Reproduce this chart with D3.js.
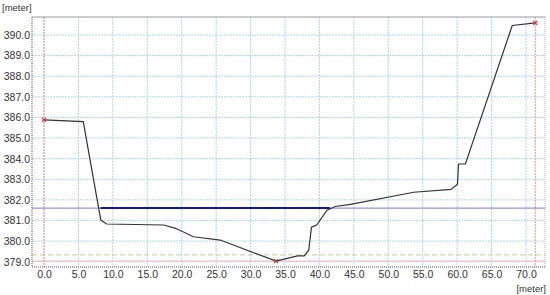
<!DOCTYPE html>
<html>
<head>
<meta charset="utf-8">
<script src="https://cdn.jsdelivr.net/npm/d3@7"></script>
<style>
  body { margin: 0; background: #fff; }
  text { font-family: "Liberation Sans", Arial, sans-serif; }
</style>
</head>
<body>
<div id="chart"></div>
<script>
// Data
const stations = [0, 5.7, 8.25, 9.1, 17.4, 19.1, 21.7, 25.6, 33.7, 36.8, 37.8, 38.45, 38.84, 39.6, 41.1, 42.3, 44.5, 53.7, 59.1, 60.05, 60.2, 61.2, 68.0, 71.35];
const elevations = [385.88, 385.8, 381.02, 380.83, 380.78, 380.62, 380.21, 380.05, 379.03, 379.28, 379.28, 379.57, 380.67, 380.78, 381.5, 381.68, 381.78, 382.37, 382.51, 382.76, 383.74, 383.74, 390.46, 390.59];
const waterLevel = 381.6;
const waterStations = [8.2, 41.5];
const greenLevel = 379.33;
const minLevel = 379.03;
const xTicks = d3.range(0, 71, 5);
const yTicks = d3.range(379, 391, 1);
const markers = [
  { s: 0, e: 385.88, c: "#e03030" },
  { s: 71.35, e: 390.59, c: "#e03030" },
  { s: 33.7, e: 379.03, c: "#a04020" },
];
const ends = [0, 71.35];

// Dimensions
const width = 550;
const height = 295;
const plot = { left: 32, right: 545, top: 17, bottom: 267 };

const svg = d3
  .select("#chart")
  .append("svg")
  .attr("width", width)
  .attr("height", height);

// Scales
const xScale = d3.scaleLinear().domain([0, 70]).range([44, 526]);
const yScale = d3.scaleLinear().domain([379, 390]).range([261.7, 35]);

svg.append("clipPath").attr("id", "clip")
  .append("rect")
  .attr("x", plot.left)
  .attr("y", plot.top)
  .attr("width", plot.right - plot.left)
  .attr("height", plot.bottom - plot.top);

const grid = svg.append("g").attr("clip-path", "url(#clip)");

// grid lines
grid.selectAll(".vgrid")
  .data(xTicks)
  .join("line")
  .attr("x1", (d) => xScale(d))
  .attr("x2", (d) => xScale(d))
  .attr("y1", plot.top)
  .attr("y2", plot.bottom)
  .attr("stroke", "#acd6f4")
  .attr("stroke-dasharray", "2,1");

grid.selectAll(".hgrid")
  .data(yTicks)
  .join("line")
  .attr("x1", plot.left)
  .attr("x2", plot.right)
  .attr("y1", (d) => yScale(d))
  .attr("y2", (d) => yScale(d))
  .attr("stroke", "#acd6f4")
  .attr("stroke-dasharray", "2,1");

// reference lines
grid.append("line")
  .attr("x1", plot.left).attr("x2", plot.right)
  .attr("y1", yScale(minLevel)).attr("y2", yScale(minLevel))
  .attr("stroke", "#f0b8b8");

grid.append("line")
  .attr("x1", plot.left).attr("x2", plot.right)
  .attr("y1", yScale(greenLevel)).attr("y2", yScale(greenLevel))
  .attr("stroke", "#b8d890")
  .attr("stroke-dasharray", "5,3");

grid.selectAll(".endline")
  .data(ends)
  .join("line")
  .attr("x1", (d) => xScale(d))
  .attr("x2", (d) => xScale(d))
  .attr("y1", plot.top)
  .attr("y2", plot.bottom)
  .attr("stroke", "#f49090")
  .attr("stroke-dasharray", "2,1");

grid.append("line")
  .attr("x1", plot.left).attr("x2", plot.right)
  .attr("y1", yScale(waterLevel)).attr("y2", yScale(waterLevel))
  .attr("stroke", "#7878e4");

// water surface
grid.append("line")
  .attr("x1", xScale(waterStations[0])).attr("x2", xScale(waterStations[1]))
  .attr("y1", yScale(waterLevel)).attr("y2", yScale(waterLevel))
  .attr("stroke", "#1414a8")
  .attr("stroke-width", 2);

// profile
const lineGenerator = d3.line()
  .x((d, i) => xScale(stations[i]))
  .y((d) => yScale(d));

grid.append("path")
  .datum(elevations)
  .attr("d", lineGenerator)
  .attr("fill", "none")
  .attr("stroke", "#333")
  .attr("stroke-width", 1.2);

// markers
grid.selectAll(".mk")
  .data(markers)
  .join("path")
  .attr("d", (d) => {
    const x = xScale(d.s), y = yScale(d.e), r = 2;
    return `M${x - r},${y - r}L${x + r},${y + r}M${x - r},${y + r}L${x + r},${y - r}`;
  })
  .attr("stroke", (d) => d.c)
  .attr("stroke-width", 1.2);

// border
svg.append("line")
  .attr("x1", plot.left).attr("x2", plot.right)
  .attr("y1", plot.top).attr("y2", plot.top)
  .attr("stroke", "#999");
svg.append("line")
  .attr("x1", plot.right).attr("x2", plot.right)
  .attr("y1", plot.top).attr("y2", plot.bottom)
  .attr("stroke", "#aaa")
  .attr("stroke-dasharray", "1,1");
svg.append("line")
  .attr("x1", plot.left).attr("x2", plot.left)
  .attr("y1", plot.top).attr("y2", plot.bottom)
  .attr("stroke", "#555")
  .attr("stroke-dasharray", "1,1");
svg.append("line")
  .attr("x1", plot.left).attr("x2", plot.right)
  .attr("y1", plot.bottom).attr("y2", plot.bottom)
  .attr("stroke", "#555")
  .attr("stroke-dasharray", "1,1");

// axes
const fmt = d3.format(".1f");
const xAxis = d3.axisBottom(xScale).tickValues(xTicks).tickFormat(fmt).tickSize(0).tickPadding(4);
const gX = svg.append("g").attr("transform", `translate(0, ${plot.bottom})`).call(xAxis);
gX.select(".domain").remove();
gX.selectAll(".tick text")
  .attr("fill", "#333")
  .style("font-size", "10.5px")
  .style("font-family", "Liberation Sans, Arial, sans-serif");

const yAxis = d3.axisLeft(yScale).tickValues(yTicks).tickFormat(fmt).tickSize(0).tickPadding(2);
const gY = svg.append("g").attr("transform", `translate(${plot.left}, 0)`).call(yAxis);
gY.select(".domain").remove();
gY.selectAll(".tick text")
  .attr("fill", "#333")
  .style("font-size", "10.5px")
  .style("font-family", "Liberation Sans, Arial, sans-serif");

// units
svg.append("text")
  .attr("x", 2).attr("y", 11)
  .attr("fill", "#333")
  .style("font-size", "9.5px")
  .text("[meter]");
svg.append("text")
  .attr("x", 546).attr("y", 292)
  .attr("text-anchor", "end")
  .attr("fill", "#333")
  .style("font-size", "9.5px")
  .text("[meter]");
</script>
</body>
</html>
